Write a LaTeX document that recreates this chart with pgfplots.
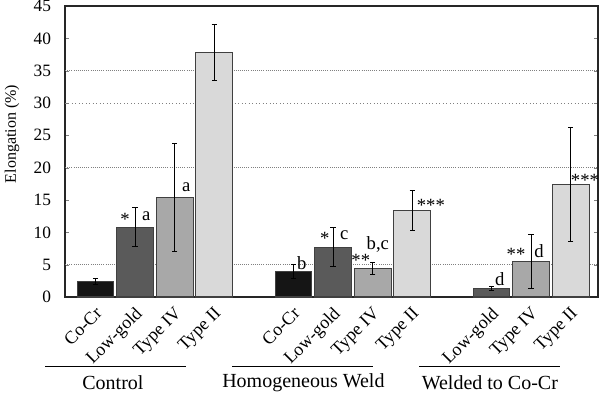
\documentclass[border=0pt]{standalone}
\usepackage{pgfplots}
\pgfplotsset{compat=1.18}
\usepackage{fontspec}
\setmainfont{Liberation Serif}
\definecolor{cocr}{HTML}{151515}
\definecolor{lowgold}{HTML}{5A5A5A}
\definecolor{typefour}{HTML}{A8A8A8}
\definecolor{typetwo}{HTML}{D9D9D9}
\definecolor{edge}{HTML}{404040}
\begin{document}
\begin{tikzpicture}[x=0.75pt,y=0.75pt]
\useasboundingbox (0,0) rectangle (600,394);
\node[rotate=90, font=\fontsize{12}{15}\selectfont] at (12,260) {Elongation (\%)};
\begin{axis}[
  at={(48.75pt,72.75pt)}, anchor=south west,
  scale only axis, width=399.75pt, height=218.25pt,
  xmin=-0.77, xmax=12.69, ymin=0, ymax=45,
  ytick={0,5,...,45},
  xtick={0,1,2,3,5,6,7,8,10,11,12},
  xticklabels={Co-Cr,Low-gold,Type IV,Type II,Co-Cr,Low-gold,Type IV,Type II,Low-gold,Type IV,Type II},
  xticklabel style={rotate=45, anchor=north east, font=\fontsize{13.5}{15}\selectfont, inner sep=1pt, xshift=-4pt, yshift=-3pt},
  yticklabel style={font=\fontsize{13}{15}\selectfont, xshift=-7pt},
  /pgf/number format/assume math mode=true,
  x axis line style={line width=1.2pt},
  axis line style={line width=1pt, black!85},
  major x tick style={draw=none},
  tick align=inside, major tick length=3pt,
  clip=false,
  error bars/y dir=both, error bars/y explicit,
  error bars/error bar style={line width=0.8pt, black},
  error bars/error mark options={rotate=90, mark size=2pt, line width=0.8pt, black},
]
\draw[densely dotted, gray, line width=0.6pt] (axis cs:-0.77,5) -- (axis cs:12.69,5);
\draw[densely dotted, gray, line width=0.6pt] (axis cs:-0.77,20) -- (axis cs:12.69,20);
\draw[dotted, gray, line width=0.6pt] (axis cs:-0.77,30) -- (axis cs:12.69,30);
\draw[densely dotted, gray, line width=0.6pt] (axis cs:-0.77,35) -- (axis cs:12.69,35);

\addplot[ybar, bar width=0.93, bar shift=0pt, fill=cocr, draw=edge, line width=0.8pt]
  coordinates {(0,2.4) +- (0,0.5) (5,3.9) +- (0,1.1)};
\addplot[ybar, bar width=0.93, bar shift=0pt, fill=lowgold, draw=edge, line width=0.8pt]
  coordinates {(1,10.8) +- (0,3.0) (6,7.7) +- (0,3.0) (10,1.35) +- (0,0.3)};
\addplot[ybar, bar width=0.93, bar shift=0pt, fill=typefour, draw=edge, line width=0.8pt]
  coordinates {(2,15.4) +- (0,8.3) (7,4.4) +- (0,0.95) (11,5.5) +- (0,4.15)};
\addplot[ybar, bar width=0.93, bar shift=0pt, fill=typetwo, draw=edge, line width=0.8pt]
  coordinates {(3,37.8) +- (0,4.3) (8,13.4) +- (0,3.05) (12,17.4) +- (0,8.8)};

\begin{scope}[every node/.style={font=\fontsize{14}{16}\selectfont, inner sep=0pt}]
\node at (axis cs:0.745,12.0) {*};
\node at (axis cs:1.28,12.5) {a};
\node at (axis cs:2.29,17.0) {a};
\node at (axis cs:5.21,5.25) {b};
\node at (axis cs:5.79,9.0) {*};
\node at (axis cs:6.28,9.6) {c};
\node at (axis cs:6.70,5.6) {**};
\node at (axis cs:7.13,8.2) {b,c};
\node at (axis cs:8.47,14.1) {***};
\node at (axis cs:10.21,2.8) {d};
\node at (axis cs:10.62,6.6) {**};
\node at (axis cs:11.2,7.1) {d};
\node at (axis cs:12.36,18.1) {***};
\end{scope}

\draw[line width=1pt] (axis cs:-1.275,-10.77) -- (axis cs:2.285,-10.77);
\draw[line width=1pt] (axis cs:3.45,-10.77) -- (axis cs:7.01,-10.77);
\draw[line width=1pt] (axis cs:8.17,-10.77) -- (axis cs:11.73,-10.77);
\begin{scope}[every node/.style={font=\fontsize{15}{17}\selectfont}]
\node at (axis cs:0.44,-13.3) {Control};
\node at (axis cs:5.25,-13.3) {Homogeneous Weld};
\node at (axis cs:9.96,-13.3) {Welded to Co-Cr};
\end{scope}
\end{axis}
\end{tikzpicture}
\end{document}
